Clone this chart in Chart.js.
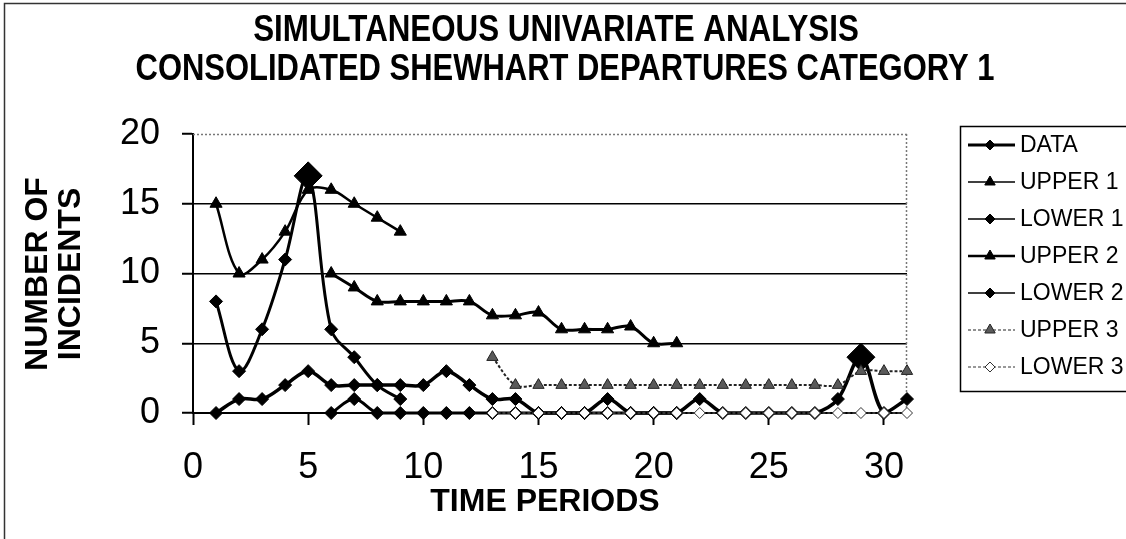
<!DOCTYPE html>
<html><head><meta charset="utf-8">
<script src="https://cdn.jsdelivr.net/npm/chart.js@4.4.1/dist/chart.umd.min.js"></script>
<style>html,body{margin:0;padding:0;background:#fff;overflow:hidden}#wrap{width:1126px;height:539px;position:relative}</style>
</head><body><div id="wrap"><canvas id="c"></canvas></div>
<script>
const titleLines = ['SIMULTANEOUS UNIVARIATE ANALYSIS', 'CONSOLIDATED SHEWHART DEPARTURES CATEGORY 1'];
const xAxisTitle = 'TIME PERIODS';
const yAxisTitleLines = ['NUMBER OF', 'INCIDENTS'];
const xTickValues = [0, 5, 10, 15, 20, 25, 30];
const yTickValues = [0, 5, 10, 15, 20];
const periods = [1,2,3,4,5,6,7,8,9,10,11,12,13,14,15,16,17,18,19,20,21,22,23,24,25,26,27,28,29,30,31];
const seriesNames = ['DATA', 'UPPER 1', 'LOWER 1', 'UPPER 2', 'LOWER 2', 'UPPER 3', 'LOWER 3'];
const dataValues = [0,1,1,2,3,2,2,2,2,2,3,2,1,1,0,0,0,1,0,0,0,1,0,0,0,0,0,1,4,0,1];
const upper1 = [15,10,11,13,16,16,15,14,13,null,null,null,null,null,null,null,null,null,null,null,null,null,null,null,null,null,null,null,null,null,null];
const lower1 = [8,3,6,11,17,6,4,2,1,null,null,null,null,null,null,null,null,null,null,null,null,null,null,null,null,null,null,null,null,null,null];
const upper2 = [null,null,null,null,null,10,9,8,8,8,8,8,7,7,7.2,6,6,6,6.2,5,5,null,null,null,null,null,null,null,null,null,null];
const lower2 = [null,null,null,null,null,0,1,0,0,0,0,0,0,0,0,0,0,0,0,0,0,null,null,null,null,null,null,null,null,null,null];
const upper3 = [null,null,null,null,null,null,null,null,null,null,null,null,4,2,2,2,2,2,2,2,2,2,2,2,2,2,2,2,3,3,3];
const lower3 = [null,null,null,null,null,null,null,null,null,null,null,null,0,0,0,0,0,0,0,0,0,0,0,0,0,0,0,0,0,0,0];
const dataFlagPeriods = [29];
const lower1FlagPeriods = [5];

const seriesValues = [dataValues, upper1, lower1, upper2, lower2, upper3, lower3];
const styles = [
  {shape:'diamond', line:3.5, color:'#000', fill:'#000', dash:[], r:6.5, flags:dataFlagPeriods, lgLine:3},
  {shape:'triangle',line:2.5, color:'#000', fill:'#000', dash:[], r:7,   flags:[], lgLine:1.5},
  {shape:'diamond', line:3,   color:'#000', fill:'#000', dash:[], r:6.5, flags:lower1FlagPeriods, lgLine:1.5},
  {shape:'triangle',line:3,   color:'#000', fill:'#000', dash:[], r:7,   flags:[], lgLine:2.5},
  {shape:'diamond', line:3,   color:'#000', fill:'#000', dash:[], r:6.5, flags:[], lgLine:1.5},
  {shape:'triangle',line:2,   color:'#222', fill:'#5a5a5a', dash:[3,2], r:6.5, flags:[], lgLine:1.2},
  {shape:'diamond', line:2,   color:'#333', fill:'#fff', dash:[3,2], r:5.5, flags:[], lgLine:1.2}
];

const datasets = seriesNames.map((name, i) => {
  const st = styles[i];
  return {
    label: name,
    data: periods.map((p, j) => ({x: p, y: seriesValues[i][j]})),
    borderColor: st.color,
    backgroundColor: st.fill,
    pointBackgroundColor: st.fill,
    pointBorderColor: st.color,
    pointBorderWidth: 1,
    borderWidth: st.line,
    borderDash: st.dash,
    pointStyle: st.shape === 'diamond' ? 'rectRot' : 'triangle',
    pointRadius: ctx => st.flags.includes(periods[ctx.dataIndex]) ? 14 : st.r,
    tension: 0.35,
    clip: false,
    order: seriesNames.length - i,
    spanGaps: false
  };
});

function drawShape(ctx, shape, x, y, r, fill, stroke) {
  ctx.beginPath();
  if (shape === 'diamond') {
    ctx.moveTo(x, y - r); ctx.lineTo(x + r, y); ctx.lineTo(x, y + r); ctx.lineTo(x - r, y);
  } else {
    ctx.moveTo(x, y - r); ctx.lineTo(x + r * 0.87, y + r * 0.5); ctx.lineTo(x - r * 0.87, y + r * 0.5);
  }
  ctx.closePath();
  ctx.fillStyle = fill; ctx.fill();
  ctx.strokeStyle = stroke; ctx.lineWidth = 1; ctx.setLineDash([]); ctx.stroke();
}

function condensedText(c, text, x, y, sx) {
  c.save(); c.translate(x, y); c.scale(sx, 1); c.fillText(text, 0, 0); c.restore();
}

const decor = {
  id: 'decor',
  beforeDraw(chart) {
    const c = chart.ctx;
    c.save(); c.fillStyle = '#fff'; c.fillRect(0, 0, chart.width, chart.height); c.restore();
  },
  beforeDatasetsDraw(chart) {
    const c = chart.ctx, a = chart.chartArea;
    c.save();
    c.strokeStyle = '#777'; c.lineWidth = 1.5; c.setLineDash([2, 2]);
    c.beginPath();
    c.moveTo(a.left, a.top + 0.5); c.lineTo(a.right, a.top + 0.5);
    c.moveTo(a.right - 0.5, a.top); c.lineTo(a.right - 0.5, a.bottom);
    c.stroke();
    c.restore();
  },
  afterDraw(chart) {
    const c = chart.ctx;
    c.save();
    // outer frame (left and top edges)
    c.strokeStyle = '#333'; c.lineWidth = 1.5; c.setLineDash([]);
    c.beginPath(); c.moveTo(4.5, 539); c.lineTo(4.5, 3.5); c.lineTo(1126, 3.5); c.stroke();
    c.fillStyle = '#000';
    c.textAlign = 'center'; c.textBaseline = 'middle';
    c.font = 'bold 36px "Liberation Sans", Arial, sans-serif';
    condensedText(c, titleLines[0], 556, 31, 0.87);
    condensedText(c, titleLines[1], 565, 70, 0.86);
    c.font = 'bold 32px "Liberation Sans", Arial, sans-serif';
    c.fillText(xAxisTitle, 545, 502);
    c.save();
    c.translate(38, 274); c.rotate(-Math.PI / 2);
    c.fillText(yAxisTitleLines[0], 0, 0);
    c.restore();
    c.save();
    c.translate(71, 274); c.rotate(-Math.PI / 2);
    c.fillText(yAxisTitleLines[1], 0, 0);
    c.restore();
    // legend
    const lx = 960, ly = 126, rowH = 37;
    c.strokeStyle = '#000'; c.lineWidth = 1.5;
    c.strokeRect(lx + 0.5, ly + 0.5, 300, 265);
    c.font = '23px "Liberation Sans", Arial, sans-serif';
    c.textAlign = 'left';
    seriesNames.forEach((name, i) => {
      const st = styles[i];
      const y = ly + 19 + i * rowH;
      c.beginPath();
      c.strokeStyle = st.color; c.lineWidth = st.lgLine; c.setLineDash(st.dash);
      c.moveTo(968, y); c.lineTo(1015, y); c.stroke();
      drawShape(c, st.shape, 990, y, st.shape === 'diamond' ? 5 : 6, st.fill, st.color);
      c.fillStyle = '#000';
      c.fillText(name, 1020, y + 1);
    });
    c.restore();
  }
};

new Chart(document.getElementById('c'), {
  type: 'line',
  data: {datasets},
  options: {
    responsive: true,
    maintainAspectRatio: false,
    animation: false,
    events: [],
    layout: {padding: {top: 134, left: 0, right: 219, bottom: 0}},
    plugins: {legend: {display: false}, title: {display: false}, tooltip: {enabled: false}},
    scales: {
      x: {
        type: 'linear', min: 0, max: 31,
        afterFit: s => { s.height = 126; },
        afterBuildTicks: s => { s.ticks = xTickValues.map(v => ({value: v})); },
        ticks: {stepSize: 5, includeBounds: false, color: '#000', padding: 21, maxRotation: 0,
                font: {family: '"Liberation Sans", Arial, sans-serif', size: 36}},
        grid: {drawOnChartArea: false, drawTicks: true, tickLength: 12, tickColor: '#000', tickWidth: 2},
        border: {display: true, color: '#000', width: 2}
      },
      y: {
        type: 'linear', min: 0, max: 20,
        afterFit: s => { s.width = 193; },
        afterBuildTicks: s => { s.ticks = yTickValues.map(v => ({value: v})); },
        ticks: {stepSize: 5, color: '#000', padding: 22,
                font: {family: '"Liberation Sans", Arial, sans-serif', size: 36}},
        grid: {drawOnChartArea: true, drawTicks: true, tickLength: 11, tickColor: '#000', tickWidth: 2,
               color: ctx => (ctx.tick && (ctx.tick.value === 0 || ctx.tick.value === 20)) ? 'rgba(0,0,0,0)' : '#000',
               lineWidth: 1.5},
        border: {display: true, color: '#000', width: 2}
      }
    }
  },
  plugins: [decor]
});
</script></body></html>
